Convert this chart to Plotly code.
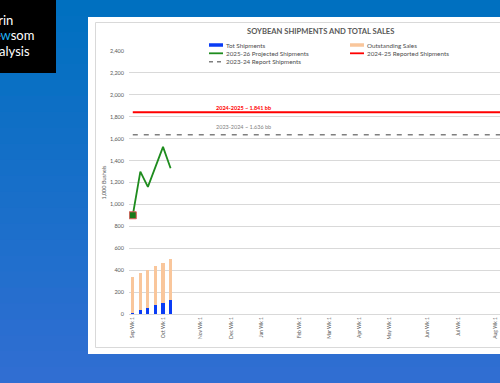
import plotly.graph_objects as go

# ---------------- data ----------------
months = ["Sep", "Oct", "Nov", "Dec", "Jan", "Feb", "Mar", "Apr", "May", "Jun", "Jul", "Aug"]
weeks_per_month = [4, 5, 4, 4, 5, 4, 4, 4, 5, 4, 5, 4]
categories = [f"{m} Wk {w}" for m, n in zip(months, weeks_per_month) for w in range(1, n + 1)]
tick_labels = [f"{m} Wk 1" for m in months]

tot_shipments = [12, 37, 58, 82, 103, 131]
outstanding_sales = [329, 337, 344, 356, 363, 368]
projected_2526 = [901, 1300, 1160, 1340, 1525, 1330]
reported_2425 = 1841
report_2324 = 1636

W, H = 500, 383
PL, PR, PT, PB = 129, 500, 51, 314  # plot area in px


def px(x):
    return (x - PL) / (PR - PL)


def py(y):
    return (PB - y) / (PB - PT)


fig = go.Figure()
n_act = len(tot_shipments)
fig.add_trace(go.Bar(x=categories[:n_act], y=tot_shipments, name="Tot Shipments",
                     marker=dict(color="#0a3cf5", line=dict(width=0)), width=0.42, showlegend=False))
fig.add_trace(go.Bar(x=categories[:n_act], y=outstanding_sales, name="Outstanding Sales",
                     marker=dict(color="#f9c69b", line=dict(width=0)), width=0.42, showlegend=False))
fig.add_trace(go.Scatter(x=categories, y=[reported_2425] * len(categories), mode="lines",
                         name="2024-25 Reported Shipments", line=dict(color="#ff0000", width=1.8),
                         showlegend=False))
fig.add_trace(go.Scatter(x=categories, y=[report_2324] * len(categories), mode="lines",
                         name="2023-24 Report Shipments",
                         line=dict(color="#7f7f7f", width=1.6, dash="5px,6px"), showlegend=False))
fig.add_trace(go.Scatter(x=categories[:len(projected_2526)], y=projected_2526, mode="lines",
                         name="2025-26 Projected Shipments", line=dict(color="#1e8c1e", width=1.8),
                         showlegend=False))
fig.add_trace(go.Scatter(x=categories[:1], y=projected_2526[:1], mode="markers",
                         marker=dict(symbol="square", size=7, color="#1a7a1a",
                                     line=dict(color="#e05a5a", width=1)),
                         showlegend=False, hoverinfo="skip"))

shapes = []
# background gradient
top = (0, 112, 192)
bot = (48, 110, 210)
nb = 24
for i in range(nb):
    t = i / (nb - 1)
    c = tuple(round(top[k] + (bot[k] - top[k]) * t) for k in range(3))
    y0 = H * i / nb
    y1 = H * (i + 1) / nb + 1
    shapes.append(dict(type="rect", xref="paper", yref="paper", x0=px(-5), x1=px(W + 5),
                       y0=py(y1), y1=py(y0), fillcolor=f"rgb{c}", line=dict(width=0), layer="below"))
# logo box
shapes.append(dict(type="rect", xref="paper", yref="paper", x0=px(-5), x1=px(56), y0=py(73), y1=py(-5),
                   fillcolor="#000000", line=dict(width=0), layer="below"))
# white panel
shapes.append(dict(type="rect", xref="paper", yref="paper", x0=px(88), x1=px(W + 10), y0=py(354), y1=py(17),
                   fillcolor="#ffffff", line=dict(width=0), layer="below"))
shapes.append(dict(type="rect", xref="paper", yref="paper", x0=px(95.5), x1=px(W + 10), y0=py(347.5), y1=py(22.5),
                   fillcolor="rgba(0,0,0,0)", line=dict(width=1, color="#d9d9d9"), layer="below"))
# legend box
shapes.append(dict(type="rect", xref="paper", yref="paper", x0=px(188), x1=px(466), y0=py(67), y1=py(40),
                   fillcolor="#ffffff", line=dict(width=0), layer="above"))

legend_items = [
    ("Tot Shipments", "#0a3cf5", "solid", 209, 45, 3.5),
    ("Outstanding Sales", "#f9c69b", "solid", 350, 45, 3.5),
    ("2025-26 Projected Shipments", "#1e8c1e", "solid", 209, 53.3, 1.8),
    ("2024-25 Reported Shipments", "#ff0000", "solid", 350, 53.3, 1.8),
    ("2023-24 Report Shipments", "#7f7f7f", "4px,4px", 209, 61.7, 1.6),
]
annotations = []
for name, col, dash, lx, ly, lw in legend_items:
    shapes.append(dict(type="line", xref="paper", yref="paper", x0=px(lx), x1=px(lx + 14),
                       y0=py(ly), y1=py(ly), line=dict(color=col, width=lw, dash=dash), layer="above"))
    annotations.append(dict(xref="paper", yref="paper", x=px(lx + 15), y=py(ly), text=name,
                            showarrow=False, xanchor="left", yanchor="middle",
                            font=dict(size=6.3, color="#4d4d4d", family="Lato")))

# title
annotations.append(dict(xref="paper", yref="paper", x=px(320), y=py(31), text="<b>SOYBEAN SHIPMENTS AND TOTAL SALES</b>",
                        showarrow=False, xanchor="center", yanchor="middle",
                        font=dict(size=7.6, color="#595959", family="Lato")))
# reference line labels
annotations.append(dict(x=10.8, y=reported_2425, xref="x", yref="y", text="<b>2024-2025 ~ 1.841 bb</b>",
                        showarrow=False, xanchor="left", yanchor="bottom", yshift=-1,
                        font=dict(size=5.5, color="#ff0000", family="Lato")))
annotations.append(dict(x=10.8, y=report_2324, xref="x", yref="y", text="2023-2024 ~ 1.636 bb",
                        showarrow=False, xanchor="left", yanchor="bottom", yshift=3,
                        font=dict(size=5.5, color="#7f7f7f", family="Lato")))
# logo text
annotations.append(dict(xref="paper", yref="paper", x=px(14.5), y=py(20), text="Darin", showarrow=False,
                        xanchor="right", yanchor="middle", font=dict(size=13, color="#ffffff", family="Lato")))
annotations.append(dict(xref="paper", yref="paper", x=px(35.5), y=py(35), text="Ne<span style='color:#1fb0f0'>w</span>som",
                        showarrow=False, xanchor="right", yanchor="middle",
                        font=dict(size=13, color="#ffffff", family="Lato")))
annotations.append(dict(xref="paper", yref="paper", x=px(32), y=py(51), text="Analysis", showarrow=False,
                        xanchor="right", yanchor="middle", font=dict(size=13, color="#ffffff", family="Lato")))

fig.update_layout(
    width=W, height=H,
    margin=dict(l=PL, r=W - PR, t=PT, b=H - PB, pad=0, autoexpand=False),
    paper_bgcolor="rgb(0,112,192)", plot_bgcolor="rgba(0,0,0,0)",
    barmode="stack", showlegend=False,
    shapes=shapes, annotations=annotations,
    font=dict(family="Lato", color="#595959"),
)
fig.update_xaxes(type="category", categoryorder="array", categoryarray=categories,
                 range=[-0.5, 48.57], tickmode="array", tickvals=tick_labels, ticktext=tick_labels,
                 tickangle=-90, tickfont=dict(size=5, color="#595959"), showgrid=False, automargin=False,
                 showline=True, linecolor="#d9d9d9", linewidth=1, ticks="", zeroline=False)
fig.update_yaxes(range=[0, 2400], dtick=200, tickformat=",", tickfont=dict(size=5.5, color="#595959"),
                 showgrid=True, gridcolor="#d9d9d9", gridwidth=1, zeroline=False, ticks="",
                 ticklabelstandoff=4, automargin=False,
                 title=dict(text="1,000 Bushels", font=dict(size=5.5, color="#595959"), standoff=3))

fig.write_html("out.html", config={"displayModeBar": False},
               post_script="document.body.style.margin='0';document.body.style.overflow='hidden';")
